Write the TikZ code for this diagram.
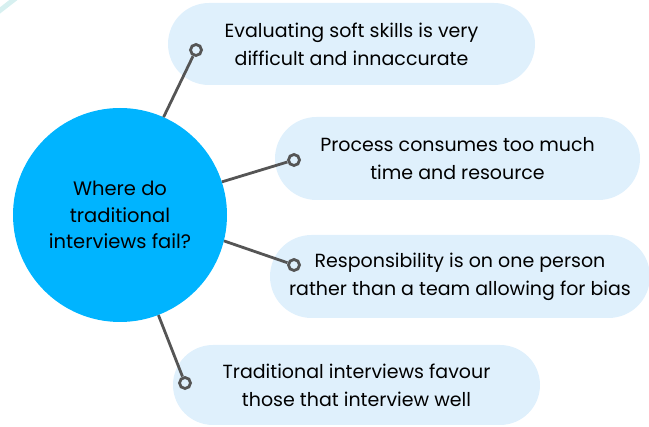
\documentclass[tikz,border=0pt]{standalone}
\usepackage{fontspec}
\usetikzlibrary{shapes.misc}
\setmainfont{Poppins}
\definecolor{hub}{RGB}{0,180,255}
\definecolor{pill}{RGB}{223,240,252}
\definecolor{wire}{RGB}{85,85,85}
\definecolor{deco}{RGB}{215,240,240}
\begin{document}
\begin{tikzpicture}[x=1pt,y=-1pt,
  hubnode/.style={circle,fill=hub,minimum size=214pt,inner sep=0pt,align=center,font=\fontsize{19.5}{26.5}\selectfont},
  pillnode/.style={rounded rectangle,fill=pill,align=center,inner sep=0pt,font=\fontsize{19}{28}\selectfont},
  wireline/.style={draw=wire,line width=2.8pt},
  ring/.style={circle,draw=wire,line width=2.8pt,fill=pill,minimum size=11pt,inner sep=0pt}]
\useasboundingbox (0,0) rectangle (649,427);
\draw[deco,line width=5pt] (-2,12) -- (16,-2);
\node[hubnode] (hub) at (120,215) {Where do\\traditional\\interviews fail?};
\node[pillnode,minimum width=367pt,minimum height=82pt] (p1) at (351.5,44) {Evaluating soft skills is very\\difficult and innaccurate};
\node[pillnode,minimum width=365pt,minimum height=83pt] (p2) at (457.5,158.5) {Process consumes too much\\time and resource};
\node[pillnode,minimum width=380pt,minimum height=83pt] (p3) at (460,276.5) {Responsibility is on one person\\rather than a team allowing for bias};
\node[pillnode,minimum width=367pt,minimum height=80pt] (p4) at (356.5,385) {Traditional interviews favour\\those that interview well};
\node[ring] (r1) at (196,50) {};
\node[ring] (r2) at (294,160) {};
\node[ring] (r3) at (294,265) {};
\node[ring] (r4) at (185,383) {};
\draw[wireline] (hub.{66}) -- (r1);
\draw[wireline] (hub.{18}) -- (r2);
\draw[wireline] (hub.{-14}) -- (r3);
\draw[wireline] (hub.{-69}) -- (r4);
\end{tikzpicture}
\end{document}
